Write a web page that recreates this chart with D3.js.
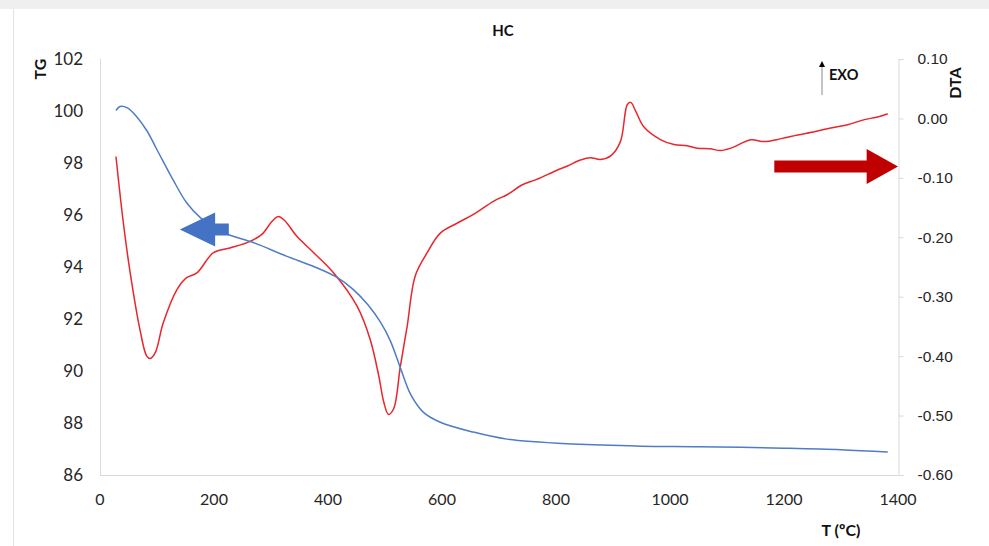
<!DOCTYPE html>
<html>
<head>
<meta charset="utf-8">
<script src="https://cdn.jsdelivr.net/npm/d3@7"></script>
<style>
  body { margin: 0; background: #fff; }
  svg { display: block; font-family: Lato, "Open Sans", sans-serif; }
  .tick-lbl { fill: #262626; }
  .ttl { font-weight: bold; fill: #111; }
</style>
</head>
<body>
<svg id="chart" width="989" height="546"></svg>
<script>
// TG curve (left axis, %)
var tgTemp = [28, 35, 48, 64, 82, 100, 128, 152, 176, 211, 269, 328, 374, 416, 444, 470, 492, 509, 527, 545, 567, 597, 655, 714, 831, 949, 1050, 1200, 1300, 1382];
var tgVal  = [100.02, 100.17, 100.12, 99.79, 99.25, 98.51, 97.36, 96.47, 95.90, 95.37, 94.94, 94.41, 94.03, 93.60, 93.14, 92.55, 91.88, 91.18, 90.12, 89.10, 88.42, 88.03, 87.65, 87.38, 87.19, 87.11, 87.09, 87.03, 86.97, 86.88];

// DTA curve (right axis)
var dtaTemp = [28, 41, 53, 70, 82, 88, 97, 111, 135, 152, 170, 199, 228, 258, 284, 302, 313, 325, 345, 375, 410, 451, 474, 489, 498, 506, 515, 527, 539, 553, 574, 597, 627, 656, 691, 715, 740, 765, 800, 820, 843, 860, 878, 896, 913, 925, 931, 940, 954, 984, 1007, 1030, 1048, 1070, 1089, 1107, 1142, 1165, 1195, 1224, 1255, 1282, 1310, 1341, 1362, 1382];
var dtaVal  = [-0.064, -0.176, -0.260, -0.355, -0.400, -0.404, -0.394, -0.344, -0.288, -0.268, -0.260, -0.226, -0.218, -0.209, -0.195, -0.173, -0.165, -0.173, -0.198, -0.226, -0.260, -0.316, -0.372, -0.433, -0.478, -0.498, -0.489, -0.417, -0.349, -0.265, -0.226, -0.193, -0.176, -0.161, -0.139, -0.128, -0.112, -0.103, -0.088, -0.080, -0.070, -0.066, -0.069, -0.063, -0.039, 0.023, 0.027, 0.012, -0.014, -0.036, -0.044, -0.046, -0.050, -0.051, -0.054, -0.050, -0.036, -0.039, -0.034, -0.028, -0.022, -0.016, -0.011, -0.002, 0.002, 0.008];

var xTicks = [0, 200, 400, 600, 800, 1000, 1200, 1400];
var tgTicks = [86, 88, 90, 92, 94, 96, 98, 100, 102];
var dtaTicks = [-0.6, -0.5, -0.4, -0.3, -0.2, -0.1, 0, 0.1];

var svg = d3.select("#chart");

// outer frame
svg.append("rect").attr("x", 0).attr("y", 0).attr("width", 989).attr("height", 9).attr("fill", "#efefef");
svg.append("line").attr("x1", 13.5).attr("x2", 13.5).attr("y1", 9).attr("y2", 546).attr("stroke", "#e3e3e3");

var x = d3.scaleLinear().domain([0, 1400]).range([100, 898]),
    yL = d3.scaleLinear().domain([86, 102]).range([475, 59]),
    yR = d3.scaleLinear().domain([-0.6, 0.1]).range([475, 59]);

// axis lines
var axisCol = "#d9d9d9";
svg.append("line").attr("x1", 100.5).attr("x2", 100.5).attr("y1", 59).attr("y2", 475).attr("stroke", axisCol);
svg.append("line").attr("x1", 100).attr("x2", 898).attr("y1", 475.5).attr("y2", 475.5).attr("stroke", axisCol);

var rAxis = d3.axisRight(yR).tickValues(dtaTicks).tickSize(5).tickPadding(14);
var gR = svg.append("g").attr("transform", "translate(898.5,0)").call(rAxis);
gR.select(".domain").attr("stroke", axisCol);
gR.selectAll(".tick line").attr("stroke", axisCol);
gR.selectAll("text").attr("class", "tick-lbl").attr("font-size", 15.5).attr("fill", "#262626")
  .text(function(d){ return d3.format(".2f")(d).replace("−", "-"); });

// left tick labels
svg.append("g").selectAll("text").data(tgTicks).join("text")
  .attr("class", "tick-lbl").attr("x", 83).attr("y", function(d){ return yL(d); })
  .attr("dy", "0.36em").attr("text-anchor", "end").attr("font-size", 17)
  .text(function(d){ return d; });

// bottom tick labels
svg.append("g").selectAll("text").data(xTicks).join("text")
  .attr("class", "tick-lbl").attr("x", function(d){ return x(d); }).attr("y", 505)
  .attr("text-anchor", "middle").attr("font-size", 16)
  .text(function(d){ return d; });

// titles
svg.append("text").attr("class", "ttl").attr("x", 503).attr("y", 36).attr("text-anchor", "middle").attr("font-size", 15).text("HC");
svg.append("text").attr("class", "ttl").attr("transform", "translate(46,69) rotate(-90)").attr("text-anchor", "middle").attr("font-size", 16).text("TG");
svg.append("text").attr("class", "ttl").attr("transform", "translate(961,83) rotate(-90)").attr("text-anchor", "middle").attr("font-size", 16).text("DTA");
svg.append("text").attr("class", "ttl").attr("x", 841).attr("y", 536).attr("text-anchor", "middle").attr("font-size", 16).text("T (ºC)");

// EXO marker
svg.append("defs").append("marker").attr("id", "ah").attr("viewBox", "0 0 10 10")
  .attr("refX", 5).attr("refY", 5).attr("markerWidth", 6).attr("markerHeight", 6).attr("orient", "auto")
  .append("path").attr("d", "M0,0L10,5L0,10z").attr("fill", "#000");
svg.append("line").attr("x1", 822).attr("x2", 822).attr("y1", 95).attr("y2", 64)
  .attr("stroke", "#888").attr("stroke-width", 1).attr("marker-end", "url(#ah)");
svg.append("text").attr("class", "ttl").attr("x", 829).attr("y", 80).attr("font-size", 14.5).text("EXO");

// curves
var tgData = tgTemp.map(function(t, i){ return [t, tgVal[i]]; });
var dtaData = dtaTemp.map(function(t, i){ return [t, dtaVal[i]]; });

var lineTG = d3.line().x(function(d){ return x(d[0]); }).y(function(d){ return yL(d[1]); }).curve(d3.curveCatmullRom);
var lineDTA = d3.line().x(function(d){ return x(d[0]); }).y(function(d){ return yR(d[1]); }).curve(d3.curveCatmullRom);

svg.append("path").datum(dtaData).attr("d", lineDTA).attr("fill", "none").attr("stroke", "#e8262b").attr("stroke-width", 1.5);
svg.append("path").datum(tgData).attr("d", lineTG).attr("fill", "none").attr("stroke", "#4f7cc4").attr("stroke-width", 1.5);

// direction arrows (anchored in data space)
function arrowPath(tipX, tipY, baseX, endX, headH, shaftH) {
  return "M" + tipX + "," + tipY +
    "L" + baseX + "," + (tipY - headH) + "L" + baseX + "," + (tipY - shaftH) +
    "L" + endX + "," + (tipY - shaftH) + "L" + endX + "," + (tipY + shaftH) +
    "L" + baseX + "," + (tipY + shaftH) + "L" + baseX + "," + (tipY + headH) + "Z";
}
svg.append("path").attr("d", arrowPath(x(140), yL(95.44), x(202), x(226), 17, 6)).attr("fill", "#4472c4");
svg.append("path").attr("d", arrowPath(x(1400), yR(-0.081), x(1345), x(1183), 17.5, 6)).attr("fill", "#c00000");
</script>
</body>
</html>
